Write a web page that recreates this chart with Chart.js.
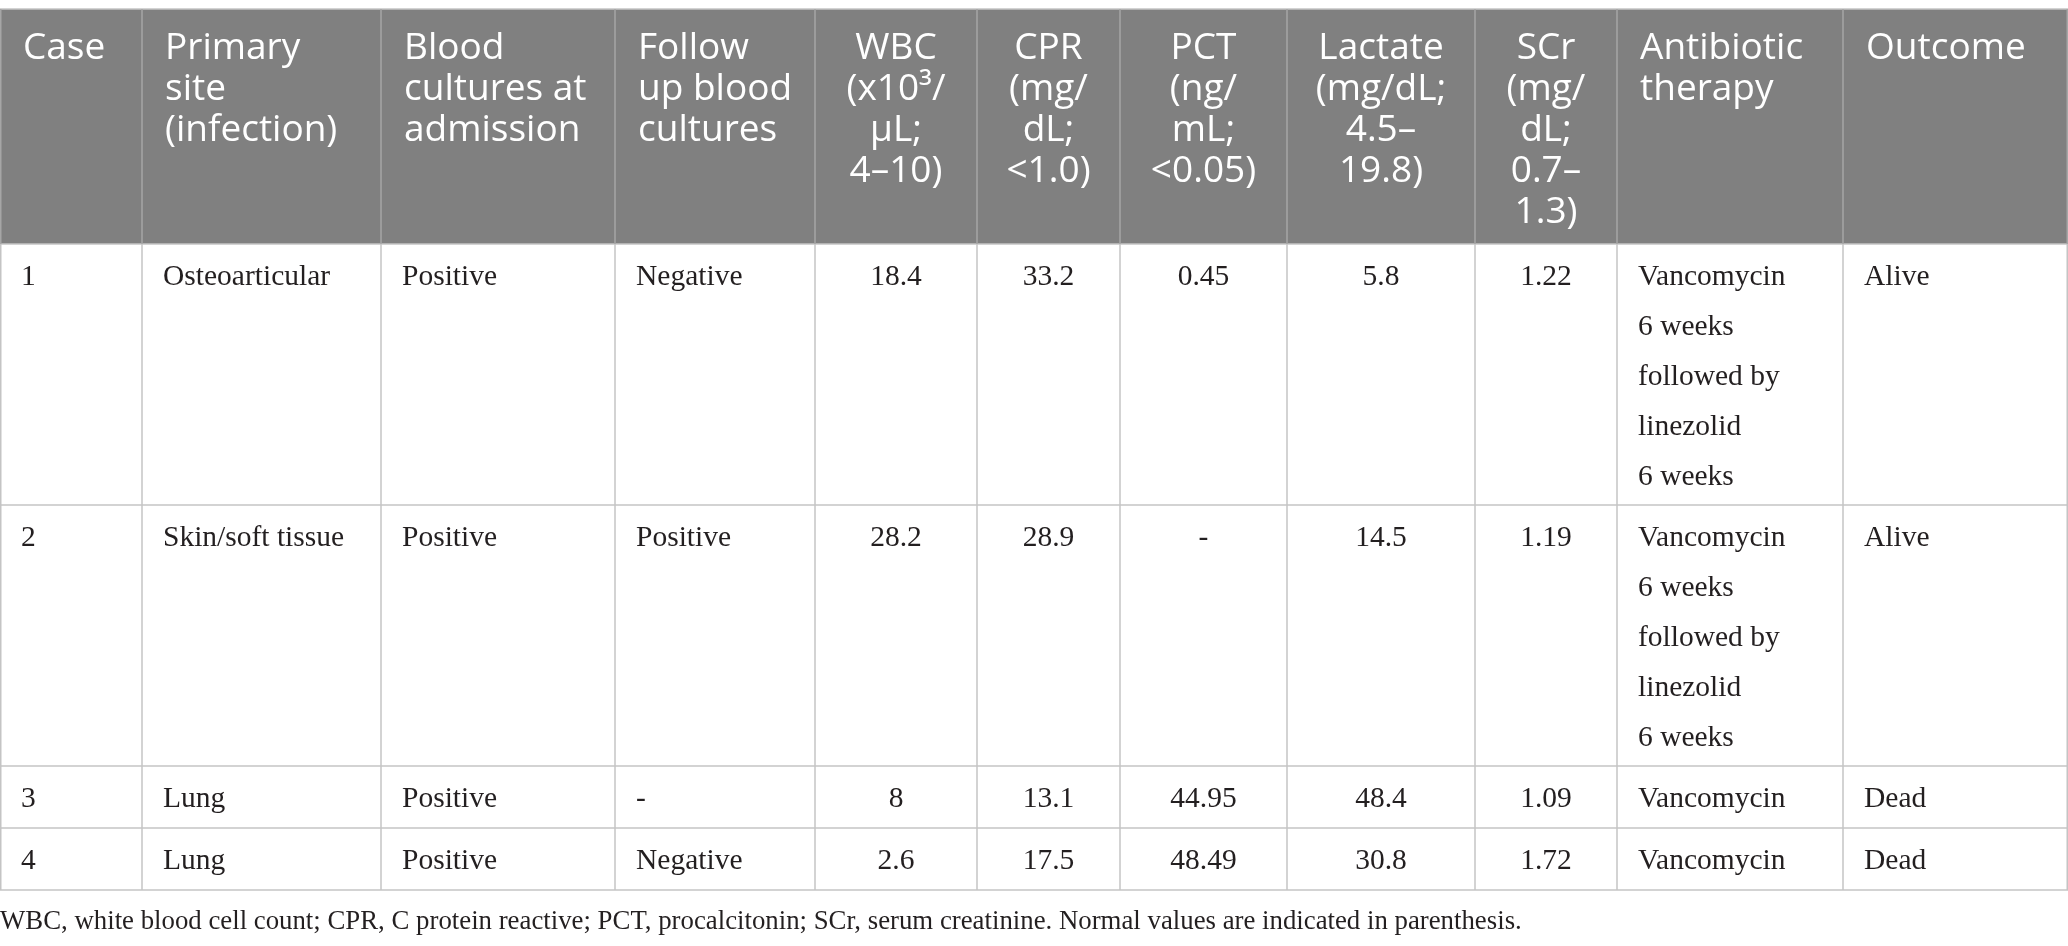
<!DOCTYPE html>
<html>
<head>
<meta charset="utf-8">
<script src="https://cdn.jsdelivr.net/npm/chart.js@4.4.1/dist/chart.umd.min.js"></script>
<style>
  html, body { margin: 0; padding: 0; background: #ffffff; }
  #wrap { width: 2068px; height: 946px; position: relative; }
</style>
</head>
<body>
<div id="wrap"><canvas id="myChart"></canvas></div>
<script>
// table content
const headers = [
  ['Case'],
  ['Primary', 'site', '(infection)'],
  ['Blood', 'cultures at', 'admission'],
  ['Follow', 'up blood', 'cultures'],
  ['WBC', '(x10\u00b3/', '\u00b5L;', '4\u201310)'],
  ['CPR', '(mg/', 'dL;', '<1.0)'],
  ['PCT', '(ng/', 'mL;', '<0.05)'],
  ['Lactate', '(mg/dL;', '4.5\u2013', '19.8)'],
  ['SCr', '(mg/', 'dL;', '0.7\u2013', '1.3)'],
  ['Antibiotic', 'therapy'],
  ['Outcome']
];
const cases = ['1', '2', '3', '4'];
const primarySite = ['Osteoarticular', 'Skin/soft tissue', 'Lung', 'Lung'];
const culturesAdmission = ['Positive', 'Positive', 'Positive', 'Positive'];
const culturesFollowUp = ['Negative', 'Positive', '-', 'Negative'];
const wbc = [18.4, 28.2, 8, 2.6];
const cpr = [33.2, 28.9, 13.1, 17.5];
const pct = [0.45, null, 44.95, 48.49];
const lactate = [5.8, 14.5, 48.4, 30.8];
const scr = [1.22, 1.19, 1.09, 1.72];
const therapy = [
  ['Vancomycin', '6 weeks', 'followed by', 'linezolid', '6 weeks'],
  ['Vancomycin', '6 weeks', 'followed by', 'linezolid', '6 weeks'],
  ['Vancomycin'],
  ['Vancomycin']
];
const outcome = ['Alive', 'Alive', 'Dead', 'Dead'];
const footnote = 'WBC, white blood cell count; CPR, C protein reactive; PCT, procalcitonin; SCr, serum creatinine. Normal values are indicated in parenthesis.';

// layout (in page units, mapped through the chart scales)
const colEdges = [0, 142, 381, 615, 815, 977, 1120, 1287, 1475, 1617, 1843, 2068];
const rowEdges = [9, 244, 505, 766, 828, 890];
const centered = [false, false, false, false, true, true, true, true, true, false, false];

function fmt(v) {
  return v === null ? '-' : String(v);
}

const columnsData = [cases, primarySite, culturesAdmission, culturesFollowUp,
  wbc.map(fmt), cpr.map(fmt), pct.map(fmt), lactate.map(fmt), scr.map(fmt), therapy, outcome];

const tablePlugin = {
  id: 'tablePlugin',
  afterDraw(chart) {
    const ctx = chart.ctx;
    const xs = chart.scales.x;
    const ys = chart.scales.y;
    const X = v => xs.getPixelForValue(v);
    const Y = v => ys.getPixelForValue(v);
    ctx.save();

    // header background
    ctx.fillStyle = '#808080';
    ctx.fillRect(X(colEdges[0]), Y(rowEdges[0]), X(colEdges[colEdges.length - 1]) - X(colEdges[0]), Y(rowEdges[1]) - Y(rowEdges[0]));

    // grid lines
    ctx.lineWidth = 1.5;
    ctx.strokeStyle = '#c4c4c4';
    for (let r = 0; r < rowEdges.length; r++) {
      ctx.beginPath();
      ctx.moveTo(X(colEdges[0]), Y(rowEdges[r]));
      ctx.lineTo(X(colEdges[colEdges.length - 1]), Y(rowEdges[r]));
      ctx.stroke();
    }
    for (let c = 0; c < colEdges.length; c++) {
      let x = X(colEdges[c]);
      if (c === 0) x += 0.75;
      if (c === colEdges.length - 1) x -= 0.75;
      ctx.strokeStyle = '#a6a6a6';
      ctx.beginPath();
      ctx.moveTo(x, Y(rowEdges[0]));
      ctx.lineTo(x, Y(rowEdges[1]));
      ctx.stroke();
      ctx.strokeStyle = '#c4c4c4';
      ctx.beginPath();
      ctx.moveTo(x, Y(rowEdges[1]));
      ctx.lineTo(x, Y(rowEdges[rowEdges.length - 1]));
      ctx.stroke();
    }

    // header text
    ctx.textBaseline = 'middle';
    ctx.fillStyle = '#ffffff';
    ctx.font = '37px "Open Sans", "Noto Sans", sans-serif';
    headers.forEach((lines, c) => {
      lines.forEach((t, i) => {
        const y = Y(rowEdges[0] + 39 + i * 41);
        if (centered[c]) {
          ctx.textAlign = 'center';
          ctx.fillText(t, X((colEdges[c] + colEdges[c + 1]) / 2), y);
        } else {
          ctx.textAlign = 'left';
          ctx.fillText(t, X(colEdges[c] + 23), y);
        }
      });
    });

    // body text
    ctx.fillStyle = '#231f20';
    ctx.font = '29.5px "Liberation Serif", "Times New Roman", serif';
    columnsData.forEach((col, c) => {
      col.forEach((cell, r) => {
        const lines = Array.isArray(cell) ? cell : [cell];
        lines.forEach((t, i) => {
          const y = Y(rowEdges[r + 1] + 33 + i * 50);
          if (centered[c]) {
            ctx.textAlign = 'center';
            ctx.fillText(t, X((colEdges[c] + colEdges[c + 1]) / 2), y);
          } else {
            ctx.textAlign = 'left';
            ctx.fillText(t, X(colEdges[c] + 21), y);
          }
        });
      });
    });

    // footnote
    ctx.textAlign = 'left';
    ctx.font = '26.8px "Liberation Serif", "Times New Roman", serif';
    ctx.fillText(footnote, X(0), Y(922));
    ctx.restore();
  }
};

const chart = new Chart(document.getElementById('myChart'), {
  type: 'scatter',
  data: { datasets: [] },
  options: {
    responsive: true,
    maintainAspectRatio: false,
    animation: false,
    layout: { padding: 0 },
    plugins: { legend: { display: false }, tooltip: { enabled: false } },
    scales: {
      x: { type: 'linear', min: 0, max: 2068, display: false },
      y: { type: 'linear', min: 0, max: 946, reverse: true, display: false }
    }
  },
  plugins: [tablePlugin]
});
</script>
</body>
</html>
